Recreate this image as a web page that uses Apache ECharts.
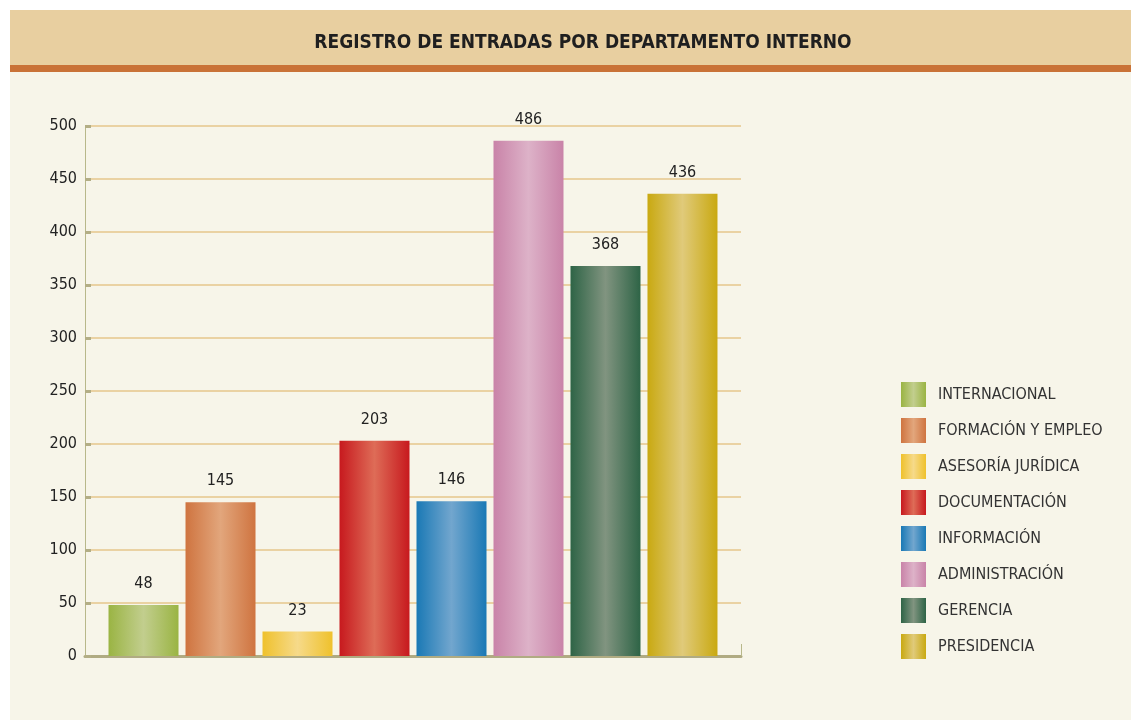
<!DOCTYPE html>
<html>
<head>
<meta charset="utf-8">
<script src="https://cdn.jsdelivr.net/npm/echarts@6/dist/echarts.min.js"></script>
<style>
	html, body { margin: 0; padding: 0; background: #ffffff; }
	#grafico { width: 1131px; height: 720px; }
</style>
</head>
<body>
<div id="grafico"></div>
<script>
// datos
const departamentos = ['INTERNACIONAL', 'FORMACIÓN Y EMPLEO', 'ASESORÍA JURÍDICA', 'DOCUMENTACIÓN',
	'INFORMACIÓN', 'ADMINISTRACIÓN', 'GERENCIA', 'PRESIDENCIA']
const entradas = [48, 145, 23, 203, 146, 486, 368, 436]
const ticksY = [0, 50, 100, 150, 200, 250, 300, 350, 400, 450, 500]

// borde y centro de cada barra (degradado horizontal)
const coresBorda = ['#9ab443', '#cf7440', '#efc12c', '#c7191e', '#1a79b5', '#c983a8', '#2e6446', '#c9a911']
const coresCentro = ['#c2ce8e', '#e2a67c', '#f6da8a', '#de6c57', '#72a6ce', '#ddb2c8', '#819480', '#e0ca7a']

const fonte = "'DejaVu Sans Condensed', 'Liberation Sans Narrow', sans-serif"

function degradado(i) {
	return new echarts.graphic.LinearGradient(0, 0, 1, 0, [
		{ offset: 0, color: coresBorda[i] },
		{ offset: 0.5, color: coresCentro[i] },
		{ offset: 1, color: coresBorda[i] }
	])
}

const myChart = echarts.init(document.getElementById('grafico'))

const series = departamentos.map((nome, i) => ({
	name: nome,
	type: 'bar',
	stack: 'todos',
	barWidth: 70,
	data: [[i, entradas[i]]],
	itemStyle: { color: degradado(i) },
	label: {
		show: true,
		position: 'top',
		distance: 13,
		color: '#222222',
		fontFamily: fonte,
		fontSize: 16
	},
	emphasis: { disabled: true }
}))

myChart.setOption({
	backgroundColor: '#ffffff',
	animation: false,
	graphic: [
		{ type: 'rect', shape: { x: 10, y: 10, width: 1121, height: 710 }, style: { fill: '#f7f5e9' }, z: -10 },
		{ type: 'rect', shape: { x: 10, y: 10, width: 1121, height: 55 }, style: { fill: '#e8cfa0' }, z: -9 },
		{ type: 'rect', shape: { x: 10, y: 65, width: 1121, height: 7 }, style: { fill: '#c97237' }, z: -9 }
	],
	title: {
		text: 'REGISTRO DE ENTRADAS POR DEPARTAMENTO INTERNO',
		left: 578,
		top: 29,
		textAlign: 'center',
		textStyle: {
			fontFamily: fonte,
			fontWeight: 'bold',
			fontSize: 19,
			color: '#1f1f1f'
		}
	},
	legend: {
		orient: 'vertical',
		left: 896,
		top: 377,
		itemWidth: 25,
		itemHeight: 25,
		itemGap: 11,
		icon: 'rect',
		selectedMode: false,
		data: departamentos,
		textStyle: {
			fontFamily: fonte,
			fontSize: 16,
			color: '#333333',
			padding: [0, 0, 0, 7]
		}
	},
	grid: {
		left: 85,
		top: 126,
		width: 656,
		height: 530
	},
	xAxis: {
		type: 'value',
		min: -0.76,
		max: 7.76,
		splitLine: { show: false },
		axisLabel: { show: false },
		axisLine: { show: true, onZero: false, lineStyle: { color: '#b0ab82', width: 3 } },
		axisTick: {
			show: true,
			inside: true,
			length: 12,
			customValues: [7.76],
			lineStyle: { color: '#b8b88a', width: 1 }
		}
	},
	yAxis: {
		type: 'value',
		min: ticksY[0],
		max: ticksY[ticksY.length - 1],
		interval: 50,
		axisLine: { show: true, onZero: false, lineStyle: { color: '#b8b88a', width: 1 } },
		axisTick: { show: true, inside: true, length: 6, lineStyle: { color: '#b3ae85', width: 3 } },
		axisLabel: {
			fontFamily: fonte,
			fontSize: 16,
			color: '#222222',
			margin: 8
		},
		splitLine: { show: true, lineStyle: { color: '#ead2a3', width: 2 } }
	},
	series: series
})
</script>
</body>
</html>
